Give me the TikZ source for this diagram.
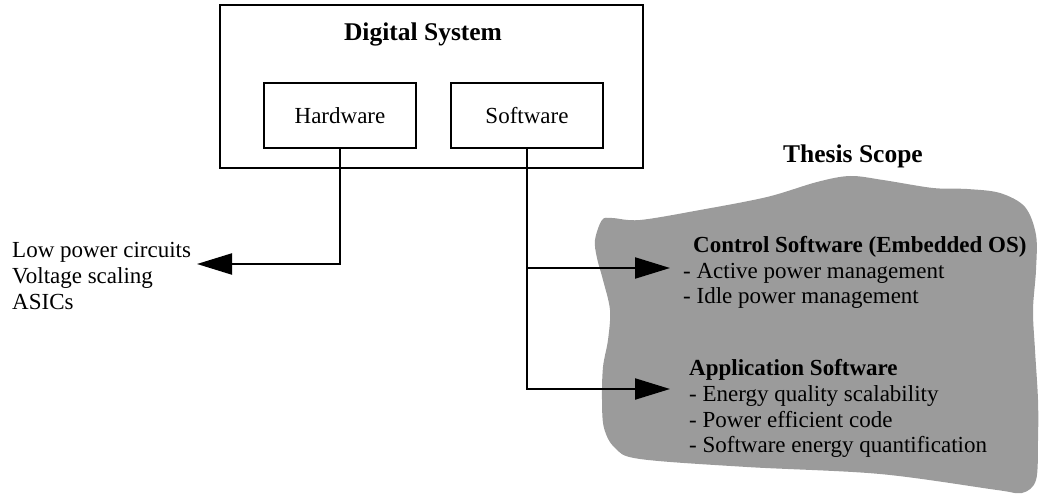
\documentclass[tikz,border=0pt]{standalone}
\usepackage{fontspec}
\setmainfont{Liberation Serif}
\usetikzlibrary{arrows.meta}
\begin{document}
\begin{tikzpicture}[x=1pt,y=-1pt,
  every node/.style={inner sep=0pt, font=\fontsize{23}{26}\selectfont},
  frame/.style={draw, line width=2.4pt, rectangle},
  unit/.style={draw, line width=1.8pt, rectangle, minimum width=152pt, minimum height=65pt},
  title/.style={font=\fontsize{25.5}{28}\bfseries\selectfont},
  line/.style={anchor=base west},
  head/.style={anchor=base west, font=\fontsize{23}{26}\bfseries\selectfont},
  arrowlink/.style={line width=2.2pt, -{Triangle[length=35pt,width=21pt]}},
  scope blob/.style={fill={rgb,255:red,155;green,155;blue,155}}
]
\useasboundingbox (0,0) rectangle (1039,500);

% scope region behind the software topics
\fill[scope blob] plot[smooth cycle, tension=0.55] coordinates {
  (602,220) (595,240) (597,258) (603,280) (610,310) (608,340) (603,367)
  (602,400) (604,428) (615,448) (640,459) (747,467) (880,474) (997,490)
  (1022,493) (1036,480) (1038,440) (1038,400) (1035,350) (1033,310)
  (1036,270) (1036,235) (1025,207) (1000,193) (967,189) (933,188)
  (883,180) (850,176) (817,182) (767,197) (700,210) (640,220) (612,218)};

% system box with its two parts
\node[frame, minimum width=423pt, minimum height=163pt] (sys) at (431.5,86.5) {};
\node[title] (systitle) at (423,34) {Digital System};
\node[unit] (hw) at (340,115.5) {Hardware};
\node[unit, minimum width=152pt] (sw) at (527,115.5) {Software};

\node[title, anchor=base] (scopetitle) at (853,163) {Thesis Scope};

% hardware topics
\node[line] (hw1) at (12,257) {Low power circuits};
\node[line] (hw2) at (12,283) {Voltage scaling};
\node[line] (hw3) at (12,309) {ASICs};

% software topics
\node[head] (cs) at (693,252) {Control Software (Embedded OS)};
\node[line] (cs1) at (683,278) {- Active power management};
\node[line] (cs2) at (683,303) {- Idle power management};

\node[head] (as) at (689,375) {Application Software};
\node[line] (as1) at (689,401) {- Energy quality scalability};
\node[line] (as2) at (689,427) {- Power efficient code};
\node[line] (as3) at (689,452) {- Software energy quantification};

% arrow end points
\coordinate (hwtip) at (197,264);
\coordinate (cstip) at (670,268);
\coordinate (astip) at (670,389);

\draw[arrowlink] (hw.south) |- (hwtip);
\draw[arrowlink] (sw.south) |- (astip);
\draw[arrowlink] (sw.south |- cstip) -- (cstip);
\end{tikzpicture}
\end{document}
